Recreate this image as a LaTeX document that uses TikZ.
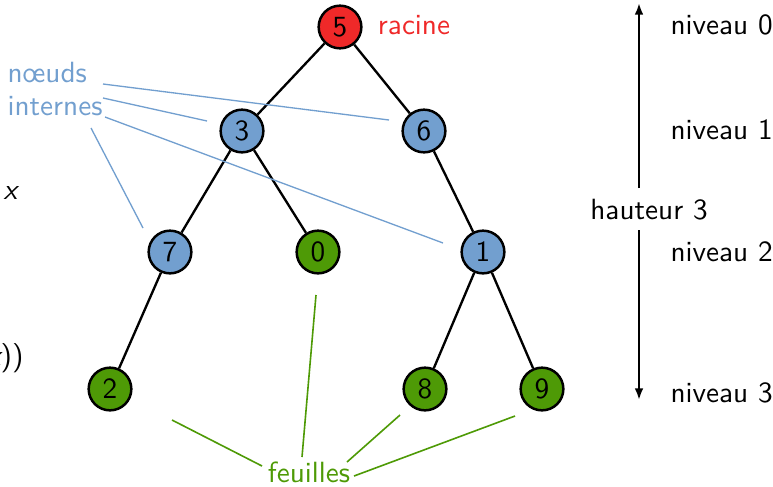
\documentclass[tikz,border=0pt]{standalone}
\usepackage{fontspec}
\usetikzlibrary{arrows.meta}
\definecolor{rootred}{HTML}{EF2929}
\definecolor{innerblue}{HTML}{729FCF}
\definecolor{leafgreen}{HTML}{4E9A06}
\tikzset{
  vertex/.style={circle, draw=black, line width=0.85pt, minimum size=14.6pt, inner sep=0pt, font=\sffamily},
  rootv/.style={vertex, fill=rootred},
  innerv/.style={vertex, fill=innerblue},
  leafv/.style={vertex, fill=leafgreen},
  branch/.style={line width=0.8pt, black},
  innerlink/.style={innerblue, line width=0.45pt},
  leaflink/.style={leafgreen, line width=0.55pt},
  caption/.style={font=\sffamily, inner sep=0pt},
  heightarrow/.style={line width=0.75pt, -{Latex[length=4pt,width=3pt]}}
}
\begin{document}
\begin{tikzpicture}[x=0.342pt, y=-0.342pt]
  \useasboundingbox (0,0) rectangle (773,486);

  % tree
  \node[rootv]  (n5) at (340,27)  {5};
  \node[innerv] (n3) at (242,131) {3};
  \node[innerv] (n6) at (424,131) {6};
  \node[innerv] (n7) at (170,252) {7};
  \node[leafv]  (n0) at (318,252) {0};
  \node[innerv] (n1) at (483,252) {1};
  \node[leafv]  (n2) at (110,389) {2};
  \node[leafv]  (n8) at (425,389) {8};
  \node[leafv]  (n9) at (542,389) {9};

  \draw[branch] (n5) -- (n3);
  \draw[branch] (n5) -- (n6);
  \draw[branch] (n3) -- (n7);
  \draw[branch] (n3) -- (n0);
  \draw[branch] (n6) -- (n1);
  \draw[branch] (n7) -- (n2);
  \draw[branch] (n1) -- (n8);
  \draw[branch] (n1) -- (n9);

  % labels
  \node[caption, text=rootred] (racine) at (414,25) {racine};
  \node[caption, text=innerblue, anchor=west] (noeuds) at (7,73) {nœuds};
  \node[caption, text=innerblue, anchor=west] (internes) at (7,106) {internes};
  \node[caption, text=leafgreen] (feuilles) at (309,472) {feuilles};

  % pointers to the internal nodes
  \coordinate (ia) at (103,84);  \coordinate (ia2) at (389,120);
  \coordinate (ib) at (103,98);  \coordinate (ib2) at (207,121);
  \coordinate (ic) at (105,117); \coordinate (ic2) at (443,243);
  \coordinate (id) at (91,128);  \coordinate (id2) at (143,228);
  \draw[innerlink] (ia) -- (ia2);
  \draw[innerlink] (ib) -- (ib2);
  \draw[innerlink] (ic) -- (ic2);
  \draw[innerlink] (id) -- (id2);

  % pointers to the leaves
  \coordinate (la) at (172,420); \coordinate (la2) at (262,466);
  \coordinate (lb) at (316,295); \coordinate (lb2) at (302,457);
  \coordinate (lc) at (400,415); \coordinate (lc2) at (347,462);
  \coordinate (ld) at (515,416); \coordinate (ld2) at (354,476);
  \draw[leaflink] (la) -- (la2);
  \draw[leaflink] (lb) -- (lb2);
  \draw[leaflink] (lc) -- (lc2);
  \draw[leaflink] (ld) -- (ld2);

  % height and levels
  \node[caption] (hauteur) at (649,210) {hauteur 3};
  \coordinate (htop) at (639,3);
  \coordinate (hgapt) at (639,188);
  \coordinate (hgapb) at (639,230);
  \coordinate (hbot) at (639,400);
  \draw[heightarrow] (hgapt) -- (htop);
  \draw[heightarrow] (hgapb) -- (hbot);

  \node[caption, anchor=west] (lv0) at (670,25)  {niveau 0};
  \node[caption, anchor=west] (lv1) at (670,130) {niveau 1};
  \node[caption, anchor=west] (lv2) at (670,252) {niveau 2};
  \node[caption, anchor=west] (lv3) at (670,393) {niveau 3};

  % fragments of the side notes
  \node[caption, anchor=west] (sidex) at (3,193) {\itshape x};
  \node[caption, anchor=east] (sidexx) at (24,358) {\itshape x\upshape))};
\end{tikzpicture}
\end{document}
